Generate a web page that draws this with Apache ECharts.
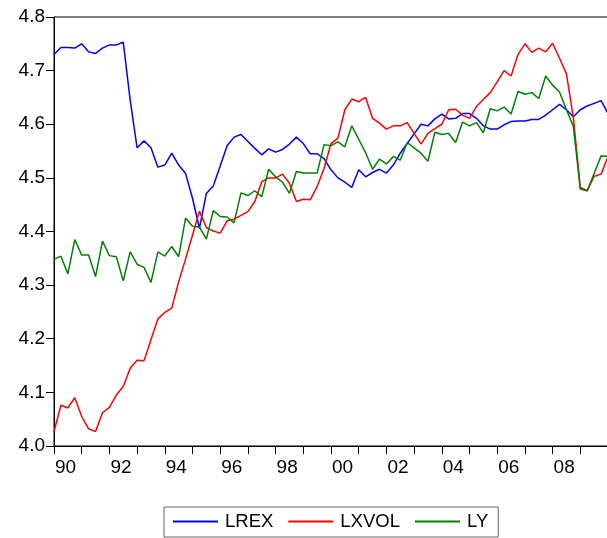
<!DOCTYPE html>
<html>
<head>
<meta charset="utf-8">
<script src="https://cdn.jsdelivr.net/npm/echarts@6/dist/echarts.min.js"></script>
<style>
  html, body { margin: 0; padding: 0; background: #fff; }
  #chart { width: 607px; height: 538px; }
</style>
</head>
<body>
<div id="chart"></div>
<script>
// Quarterly observations, 1990Q1 onward (log levels)
const seriesNames = ['LREX', 'LXVOL', 'LY'];

const lrex = [
  4.730, 4.743, 4.743, 4.742, 4.750, 4.735, 4.732, 4.742, 4.748, 4.748,
  4.753, 4.645, 4.556, 4.569, 4.556, 4.520, 4.524, 4.546, 4.524, 4.508,
  4.462, 4.406, 4.471, 4.485, 4.522, 4.560, 4.576, 4.581, 4.568, 4.555,
  4.543, 4.554, 4.548, 4.553, 4.563, 4.576, 4.564, 4.545, 4.545, 4.536,
  4.515, 4.500, 4.492, 4.482, 4.515, 4.502, 4.510, 4.516, 4.509, 4.524,
  4.546, 4.564, 4.582, 4.600, 4.597, 4.610, 4.619, 4.610, 4.611, 4.620,
  4.620, 4.611, 4.597, 4.591, 4.591, 4.599, 4.605, 4.606, 4.606, 4.609,
  4.609, 4.617, 4.627, 4.637, 4.627, 4.614, 4.627, 4.634, 4.639, 4.644,
  4.620
];

const lxvol = [
  4.027, 4.076, 4.071, 4.090, 4.055, 4.032, 4.027, 4.062, 4.072, 4.095,
  4.111, 4.145, 4.160, 4.159, 4.198, 4.237, 4.249, 4.257, 4.306, 4.349,
  4.393, 4.438, 4.407, 4.401, 4.397, 4.420, 4.423, 4.430, 4.437, 4.456,
  4.493, 4.500, 4.500, 4.507, 4.490, 4.456, 4.460, 4.459, 4.484, 4.518,
  4.564, 4.574, 4.627, 4.647, 4.642, 4.650, 4.611, 4.602, 4.591, 4.597,
  4.597, 4.603, 4.583, 4.563, 4.583, 4.592, 4.600, 4.627, 4.628, 4.617,
  4.611, 4.633, 4.646, 4.659, 4.679, 4.700, 4.690, 4.730, 4.750, 4.734,
  4.742, 4.735, 4.751, 4.723, 4.694, 4.612, 4.482, 4.476, 4.503, 4.507,
  4.540
];

const ly = [
  4.348, 4.354, 4.321, 4.385, 4.356, 4.356, 4.316, 4.382, 4.355, 4.353,
  4.308, 4.362, 4.339, 4.333, 4.305, 4.362, 4.354, 4.372, 4.353, 4.425,
  4.410, 4.408, 4.386, 4.439, 4.428, 4.427, 4.416, 4.472, 4.467, 4.476,
  4.465, 4.516, 4.502, 4.492, 4.471, 4.512, 4.509, 4.509, 4.509, 4.562,
  4.560, 4.567, 4.558, 4.597, 4.572, 4.547, 4.516, 4.535, 4.526, 4.540,
  4.533, 4.566, 4.556, 4.546, 4.531, 4.585, 4.581, 4.583, 4.566, 4.604,
  4.597, 4.603, 4.584, 4.629, 4.625, 4.632, 4.619, 4.661, 4.656, 4.659,
  4.648, 4.690, 4.673, 4.660, 4.627, 4.596, 4.479, 4.476, 4.508, 4.541,
  4.540
];

// Labels shown every second year along the time axis
const yearTickLabels = ['90', '92', '94', '96', '98', '00', '02', '04', '06', '08'];

const colors = ['#0000ff', '#ff0000', '#008000'];
const fontFamily = '"Liberation Sans", Arial, Helvetica, sans-serif';

const toPoints = arr => arr.map((v, i) => [i, v]);

const chart = echarts.init(document.getElementById('chart'), null, { renderer: 'canvas' });

chart.setOption({
  animation: false,
  backgroundColor: '#ffffff',
  grid: {
    left: 54,
    right: -1,
    top: 17,
    bottom: 92,
    show: true,
    borderColor: '#000',
    borderWidth: 1,
    backgroundColor: 'transparent',
    outerBoundsMode: 'none'
  },
  xAxis: {
    type: 'value',
    min: 0,
    max: 80,
    interval: 4,
    axisLine: { show: true, onZero: false, lineStyle: { color: '#000', width: 1 } },
    axisTick: { show: true, length: 8, inside: false, lineStyle: { color: '#000', width: 1 } },
    splitLine: { show: false },
    axisLabel: {
      show: true,
      margin: 12,
      align: 'left',
      padding: [0, 0, 0, 1],
      color: '#000',
      fontSize: 19,
      fontFamily: fontFamily,
      showMaxLabel: false,
      formatter: v => (v % 8 === 0 && v / 8 < yearTickLabels.length) ? yearTickLabels[v / 8] : ''
    }
  },
  yAxis: {
    type: 'value',
    min: 4.0,
    max: 4.8,
    interval: 0.1,
    axisLine: { show: true, lineStyle: { color: '#000', width: 1 } },
    axisTick: { show: true, length: 8, inside: false, lineStyle: { color: '#000', width: 1 } },
    splitLine: { show: false },
    axisLabel: {
      margin: 9,
      color: '#000',
      fontSize: 19,
      fontFamily: fontFamily,
      formatter: v => v.toFixed(1)
    }
  },
  legend: {
    show: true,
    left: 164,
    top: 507,
    orient: 'horizontal',
    padding: [5, 10, 6, 9],
    itemGap: 15,
    itemWidth: 45,
    itemHeight: 2,
    icon: 'rect',
    borderColor: '#666',
    borderWidth: 1,
    backgroundColor: '#fff',
    textStyle: {
      color: '#000',
      fontSize: 18.5,
      fontFamily: fontFamily,
      padding: [0, 0, 0, 2]
    },
    data: seriesNames
  },
  series: [
    { name: seriesNames[0], data: toPoints(lrex) },
    { name: seriesNames[1], data: toPoints(lxvol) },
    { name: seriesNames[2], data: toPoints(ly) }
  ].map((s, k) => Object.assign({
    type: 'line',
    showSymbol: false,
    symbol: 'none',
    smooth: false,
    clip: true,
    color: colors[k],
    lineStyle: { color: colors[k], width: 1.5 },
    itemStyle: { color: colors[k] }
  }, s))
});
</script>
</body>
</html>
